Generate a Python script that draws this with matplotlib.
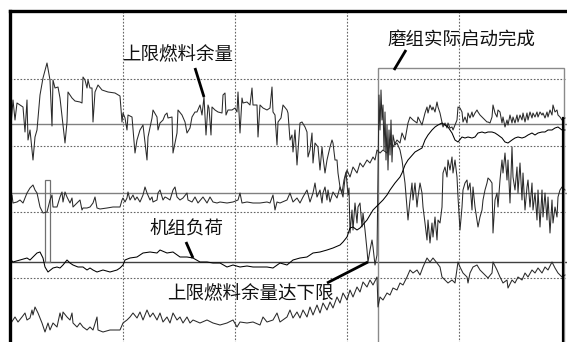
import numpy as np
import matplotlib.pyplot as plt
from matplotlib.patches import Rectangle

plt.rcParams['font.family'] = ['Noto Sans CJK SC', 'DejaVu Sans']

# time (px columns of the record) / signal level (px rows, top = high)
fuel_margin = np.array([
    (11, 125), (13, 100), (15, 120), (17, 103), (20, 105), (23, 107), (25, 132), (27, 100), (28, 140),
    (30, 130), (33, 160), (35, 137), (37, 130), (40, 95), (43, 78), (47, 63), (50, 80), (52, 126),
    (53, 80), (55, 88), (58, 87), (60, 98), (63, 125), (65, 143), (67, 122), (68, 92), (72, 98),
    (75, 101), (80, 102), (82, 103), (83, 77), (85, 80), (87, 88), (88, 80), (90, 88), (92, 88),
    (93, 122), (95, 92), (98, 85), (102, 90), (108, 92), (115, 93), (120, 96), (122, 122), (123, 113),
    (125, 118), (127, 130), (128, 115), (132, 117), (135, 153), (137, 140), (140, 130), (143, 125),
    (147, 160), (148, 137), (152, 118), (153, 110), (157, 117), (158, 130), (160, 123), (163, 120),
    (165, 115), (167, 113), (168, 118), (172, 117), (173, 153), (177, 133), (178, 110), (182, 115),
    (185, 122), (187, 133), (190, 128), (192, 117), (195, 112), (197, 112), (200, 105), (202, 115),
    (204, 97), (206, 135), (208, 105), (209, 108), (211, 135), (212, 107), (215, 110), (218, 112),
    (222, 113), (223, 95), (225, 93), (226, 115), (228, 110), (232, 110), (235, 108), (237, 112),
    (238, 92), (240, 133), (242, 98), (243, 103), (247, 102), (250, 105), (252, 88), (253, 105),
    (257, 105), (258, 137), (260, 105), (263, 108), (267, 110), (270, 108), (272, 87), (273, 112),
    (275, 115), (277, 145), (278, 122), (281, 118), (283, 105), (287, 110), (288, 113), (290, 140),
    (292, 135), (293, 152), (295, 130), (297, 165), (300, 123), (302, 122), (305, 127), (307, 132),
    (308, 157), (310, 150), (312, 133), (313, 163), (315, 143), (318, 147), (320, 170), (322, 147),
    (323, 157), (325, 173), (327, 160), (330, 147), (332, 140), (333, 143), (335, 160), (337, 160),
    (338, 173), (340, 187), (342, 193), (344, 180), (346, 172), (348, 195), (349, 188), (350, 233),
    (352, 210), (353, 230), (355, 203), (357, 223), (358, 207), (360, 203), (362, 227), (363, 213),
    (365, 230), (367, 250), (368, 262), (370, 250), (372, 240), (373, 247), (375, 265), (377, 255),
    (379, 95), (380, 130), (381, 90), (382, 120), (383, 105), (384, 150), (385, 112), (386, 160),
    (387, 125), (388, 170), (389, 130), (390, 155), (391, 120), (392, 162), (393, 135), (395, 145),
    (397, 143), (400, 150), (402, 160), (405, 183), (408, 220), (410, 200), (412, 183), (413, 200),
    (415, 183), (417, 207), (418, 197), (420, 183), (422, 193), (423, 207), (425, 223), (427, 240),
    (428, 220), (430, 243), (432, 223), (433, 237), (435, 217), (437, 240), (438, 220), (440, 223),
    (442, 207), (443, 173), (445, 167), (447, 177), (448, 160), (450, 170), (452, 157), (453, 173),
    (455, 160), (457, 177), (458, 197), (460, 230), (462, 207), (463, 190), (465, 183), (467, 180),
    (468, 190), (470, 183), (472, 210), (473, 187), (475, 207), (477, 220), (478, 227), (480, 217),
    (482, 210), (483, 200), (485, 190), (487, 183), (488, 178), (490, 180), (492, 183), (493, 233),
    (495, 200), (497, 193), (498, 207), (500, 180), (502, 160), (503, 173), (505, 153), (507, 180),
    (508, 160), (510, 203), (512, 147), (513, 177), (515, 190), (517, 167), (518, 193), (520, 163),
    (522, 200), (523, 173), (525, 210), (527, 187), (528, 180), (530, 207), (532, 183), (533, 210),
    (535, 193), (537, 220), (538, 190), (540, 227), (542, 190), (543, 217), (545, 193), (547, 220),
    (548, 197), (550, 233), (552, 200), (553, 223), (555, 207), (557, 217), (558, 197), (560, 190),
    (562, 187), (565, 190),
])

mill_signal = np.array([
    (11, 200), (12, 195), (13, 203), (17, 202), (20, 200), (23, 203), (27, 193), (30, 188), (33, 185),
    (35, 190), (37, 193), (40, 207), (43, 213), (47, 212), (50, 200), (52, 195), (53, 207), (57, 207),
    (60, 197), (62, 192), (63, 202), (65, 192), (67, 197), (70, 203), (72, 198), (73, 207), (77, 203),
    (80, 200), (82, 210), (83, 208), (87, 208), (90, 207), (93, 203), (95, 197), (97, 208), (100, 209),
    (107, 208), (113, 207), (120, 207), (122, 200), (123, 198), (125, 202), (127, 198), (128, 192),
    (130, 200), (133, 195), (135, 200), (137, 197), (140, 202), (143, 195), (145, 187), (147, 193),
    (150, 200), (152, 197), (153, 202), (157, 200), (158, 193), (160, 190), (163, 200), (165, 197),
    (167, 198), (170, 200), (173, 190), (175, 187), (177, 197), (180, 200), (183, 198), (187, 193),
    (188, 200), (192, 202), (195, 197), (198, 203), (203, 197), (207, 203), (210, 197), (213, 202),
    (217, 203), (220, 202), (227, 203), (233, 202), (238, 200), (240, 193), (242, 203), (247, 202),
    (253, 203), (260, 203), (267, 202), (270, 203), (273, 195), (275, 210), (277, 202), (280, 203),
    (287, 200), (290, 193), (293, 202), (297, 198), (300, 203), (303, 197), (307, 190), (310, 202),
    (313, 193), (315, 183), (317, 197), (320, 190), (322, 203), (323, 193), (325, 187), (327, 200),
    (328, 190), (330, 202), (333, 192), (337, 198), (340, 187), (343, 197), (345, 178), (347, 170),
    (350, 177), (353, 167), (357, 173), (360, 163), (363, 167), (367, 160), (370, 163), (373, 157),
    (375, 160), (377, 150), (380, 153), (383, 150), (387, 153), (390, 143), (393, 147), (397, 140),
    (400, 143), (402, 133), (405, 140), (408, 123), (410, 117), (413, 120), (417, 123), (418, 117),
    (422, 125), (425, 113), (427, 107), (428, 113), (430, 105), (432, 110), (433, 107), (435, 112),
    (437, 102), (438, 107), (440, 113), (442, 122), (443, 127), (445, 123), (447, 128), (448, 123),
    (450, 128), (452, 127), (453, 130), (455, 125), (457, 120), (458, 107), (460, 108), (462, 112),
    (463, 122), (465, 117), (467, 123), (468, 113), (470, 118), (472, 112), (473, 117), (475, 113),
    (477, 110), (478, 112), (480, 115), (482, 117), (483, 118), (485, 120), (487, 122), (488, 122),
    (490, 123), (492, 117), (493, 105), (495, 113), (497, 117), (498, 110), (500, 112), (502, 123),
    (503, 117), (505, 127), (507, 120), (508, 125), (510, 115), (512, 123), (513, 117), (515, 123),
    (517, 115), (518, 122), (520, 115), (522, 120), (523, 113), (525, 122), (527, 113), (528, 120),
    (530, 112), (532, 118), (533, 113), (535, 117), (537, 112), (538, 117), (540, 112), (542, 115),
    (543, 113), (545, 118), (547, 112), (548, 117), (550, 110), (552, 115), (553, 105), (555, 112),
    (557, 110), (558, 115), (560, 117), (562, 120), (565, 118),
])

unit_load = np.array([
    (11, 260), (13, 262), (20, 260), (27, 258), (30, 260), (33, 257), (37, 253), (40, 252), (43, 258),
    (45, 267), (48, 272), (53, 268), (57, 267), (60, 268), (63, 265), (67, 260), (70, 263), (73, 265),
    (78, 267), (83, 267), (87, 270), (90, 268), (93, 270), (97, 272), (103, 270), (110, 272),
    (117, 270), (120, 268), (123, 265), (125, 260), (130, 258), (137, 257), (143, 253), (150, 252),
    (157, 253), (160, 250), (167, 253), (173, 252), (180, 257), (187, 257), (193, 258), (200, 262),
    (207, 262), (213, 263), (220, 263), (227, 267), (233, 265), (240, 267), (247, 266), (253, 267),
    (260, 267), (267, 267), (273, 268), (280, 263), (287, 265), (293, 260), (300, 258), (307, 257),
    (313, 253), (320, 252), (327, 250), (333, 248), (340, 245), (343, 242), (347, 237), (350, 228),
    (353, 227), (357, 230), (360, 228), (367, 220), (373, 210), (378, 205), (383, 200), (387, 195),
    (390, 190), (395, 183), (400, 177), (402, 173), (405, 165), (408, 160), (415, 152), (422, 148),
    (425, 140), (428, 135), (432, 130), (435, 127), (438, 125), (442, 123), (445, 125), (448, 127),
    (452, 133), (455, 140), (458, 142), (462, 137), (465, 138), (468, 137), (472, 138), (475, 137),
    (478, 133), (482, 132), (485, 133), (488, 132), (492, 132), (495, 133), (498, 135), (502, 138),
    (505, 142), (508, 143), (512, 140), (515, 138), (518, 137), (522, 138), (525, 137), (528, 135),
    (532, 133), (535, 135), (538, 133), (542, 132), (545, 132), (548, 130), (552, 130), (555, 128),
    (558, 127), (562, 130), (565, 130),
])

lower_signal = np.array([
    (11, 323), (15, 317), (18, 322), (22, 317), (25, 313), (27, 320), (30, 318), (32, 310), (33, 315),
    (35, 307), (38, 313), (42, 323), (45, 332), (48, 323), (50, 330), (53, 323), (57, 327), (60, 313),
    (62, 320), (63, 312), (67, 317), (70, 320), (72, 313), (73, 323), (77, 327), (80, 323), (83, 327),
    (87, 330), (90, 327), (93, 330), (97, 317), (98, 330), (103, 332), (110, 330), (117, 330),
    (120, 330), (123, 323), (127, 320), (130, 317), (133, 313), (137, 318), (140, 312), (143, 320),
    (147, 310), (150, 317), (153, 313), (157, 320), (160, 313), (163, 322), (167, 317), (170, 323),
    (173, 313), (177, 320), (180, 317), (183, 323), (187, 317), (190, 323), (193, 320), (200, 323),
    (207, 320), (213, 323), (220, 325), (227, 323), (233, 320), (237, 327), (240, 322), (247, 323),
    (253, 322), (260, 325), (263, 317), (267, 322), (273, 320), (277, 313), (280, 322), (287, 317),
    (290, 310), (293, 318), (297, 312), (300, 318), (303, 310), (307, 317), (310, 307), (313, 315),
    (317, 305), (320, 313), (323, 303), (327, 310), (330, 302), (333, 308), (337, 297), (340, 303),
    (343, 293), (347, 300), (350, 290), (353, 297), (357, 287), (360, 292), (363, 282), (367, 287),
    (370, 280), (373, 285), (377, 277), (378, 307), (380, 297), (383, 300), (387, 293), (390, 295),
    (393, 288), (397, 290), (400, 283), (403, 285), (407, 277), (410, 270), (413, 273), (417, 270),
    (420, 275), (423, 267), (427, 258), (430, 262), (433, 258), (437, 263), (440, 267), (442, 277),
    (445, 280), (448, 283), (452, 280), (455, 283), (458, 262), (460, 267), (463, 273), (467, 277),
    (468, 283), (470, 273), (473, 267), (477, 265), (480, 270), (483, 273), (488, 278), (492, 273),
    (493, 262), (497, 270), (500, 277), (503, 283), (507, 280), (508, 288), (512, 280), (515, 283),
    (518, 277), (522, 280), (525, 273), (528, 277), (532, 270), (535, 273), (538, 268), (542, 273),
    (545, 267), (548, 270), (552, 262), (555, 268), (558, 273), (562, 277), (565, 275),
])

labels = ["上限燃料余量", "磨组实际启动完成", "机组负荷", "上限燃料余量达下限"]
label_pos = [(122, 55), (387, 40), (149, 230), (167, 294)]
pointers = [((195, 68), (204, 97)), ((406, 50), (394, 70)),
            ((186, 242), (193, 258)), ((327, 283), (368, 262))]

fig = plt.figure(figsize=(5.67, 3.42), dpi=100)
ax = fig.add_axes([10 / 567, -3 / 342, 561 / 567, 334 / 342])
ax.set_xlim(10, 571)
ax.set_ylim(345, 11)
ax.set_xticks([])
ax.set_yticks([])
for s in ['right', 'bottom']:
    ax.spines[s].set_visible(False)
for s in ['top', 'left']:
    ax.spines[s].set_linewidth(2.4)

# dotted grid and reference levels
for x in [123, 235, 347, 459]:
    ax.axvline(x, color='#666666', lw=0.8, ls=(0, (1.5, 1.5)), zorder=1)
for y in [79, 146, 212, 278]:
    ax.axhline(y, color='#666666', lw=0.8, ls=(0, (1.5, 1.5)), zorder=1)
ax.axhline(124, color='#808080', lw=1.0, zorder=1)
ax.axhline(193, color='#808080', lw=1.0, zorder=1)
ax.axhline(262, color='#404040', lw=1.0, zorder=1)

# markers: mill start window and small pulse
ax.add_patch(Rectangle((378, 68), 186, 280, fill=False, ec='#8a8a8a', lw=1.0, zorder=1))
ax.plot([563, 563], [118, 345], color='black', lw=1.6, zorder=3)
ax.add_patch(Rectangle((45, 180), 5, 82, fill=False, ec='#707070', lw=0.9, zorder=2))

for d, c in [(fuel_margin, '#2a2a2a'), (mill_signal, '#2a2a2a'),
             (lower_signal, '#2a2a2a'), (unit_load, 'black')]:
    ax.plot(d[:, 0], d[:, 1], color=c, lw=0.75, zorder=2)

for txt, (x, y) in zip(labels, label_pos):
    ax.text(x, y, txt, fontsize=13.3, ha='left', va='center', color='#111111', zorder=4)
for (x0, y0), (x1, y1) in pointers:
    ax.plot([x0, x1], [y0, y1], color='black', lw=2.0, solid_capstyle='butt', zorder=4)

fig.savefig('out.png', dpi=100)
